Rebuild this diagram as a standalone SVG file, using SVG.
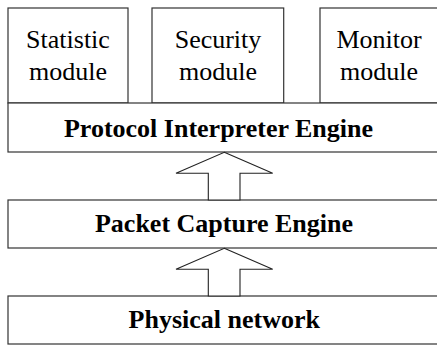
<svg xmlns="http://www.w3.org/2000/svg" width="437" height="345" viewBox="0 0 437 345">
<style>
.box{fill:#fff;stroke:#333;stroke-width:1.2}
.arrow{fill:#fff;stroke:#222;stroke-width:1.1;stroke-linejoin:miter}
.t{font-family:"Liberation Serif","Times New Roman",serif;font-size:26px;fill:#000;text-anchor:middle}
.b{font-weight:bold}
</style>
<rect width="437" height="345" fill="#fff"/>
<g id="statistic">
<rect class="box" x="8" y="8" width="120" height="95"/>
<text class="t" x="68" y="48">Statistic</text>
<text class="t" x="68" y="80">module</text>
</g>
<g id="security">
<rect class="box" x="152" y="8" width="131.7" height="95"/>
<text class="t" x="218" y="48">Security</text>
<text class="t" x="218" y="80">module</text>
</g>
<g id="monitor">
<rect class="box" x="320" y="8" width="125" height="95"/>
<text class="t" x="379" y="48">Monitor</text>
<text class="t" x="379" y="80">module</text>
</g>
<g id="protocol">
<rect class="box" x="8" y="103" width="437" height="49"/>
<text class="t b" x="218.5" y="137">Protocol Interpreter Engine</text>
</g>
<g id="packet">
<rect class="box" x="8" y="200" width="437" height="48"/>
<text class="t b" x="224" y="232">Packet Capture Engine</text>
</g>
<g id="physical">
<rect class="box" x="8" y="296" width="437" height="48"/>
<text class="t b" x="224.3" y="328">Physical network</text>
</g>
<g id="connectors">
<polygon class="arrow" points="224.3,152.3 272.7,173.3 240,173.3 240,200 208.3,200 208.3,173.3 176,173.3"/>
<polygon class="arrow" points="224.3,248.3 272.7,269.3 240,269.3 240,296 208.3,296 208.3,269.3 176,269.3"/>
</g>
</svg>
